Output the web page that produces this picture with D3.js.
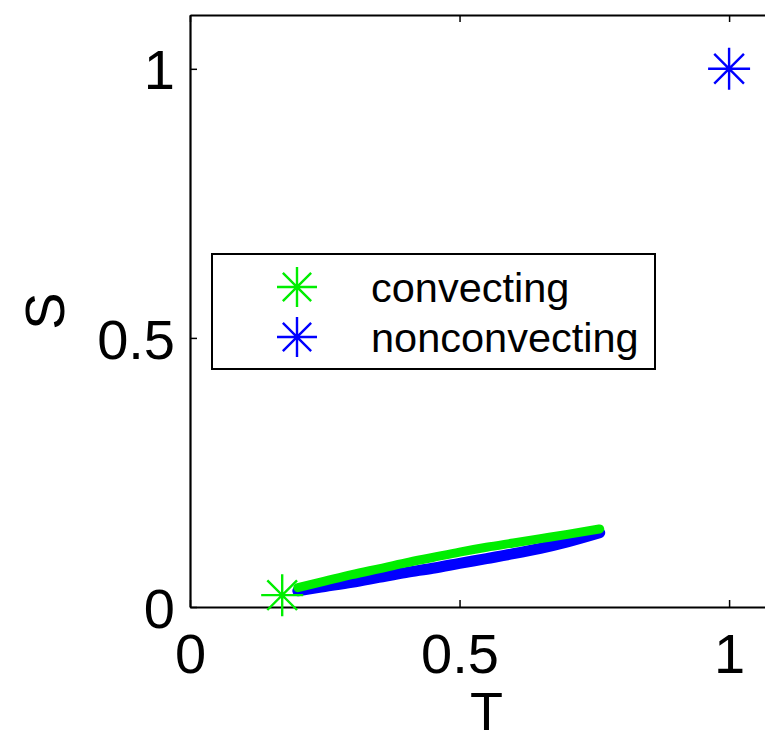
<!DOCTYPE html>
<html><head><meta charset="utf-8">
<script src="https://cdn.jsdelivr.net/npm/d3@7"></script>
<style>body{margin:0;background:#fff}svg{display:block}</style>
</head><body>
<script>
// Data
const convT = [0.20, 0.25, 0.30, 0.35, 0.40, 0.45, 0.50, 0.55, 0.60, 0.65, 0.70, 0.76];
const convS = [0.036, 0.048, 0.060, 0.071, 0.082, 0.092, 0.102, 0.111, 0.119, 0.127, 0.135, 0.145];
const nonT = [0.20, 0.25, 0.30, 0.35, 0.40, 0.45, 0.50, 0.55, 0.60, 0.65, 0.70, 0.76];
const nonS = [0.030, 0.038, 0.046, 0.055, 0.064, 0.072, 0.081, 0.090, 0.099, 0.109, 0.121, 0.138];
const convStarT = [0.171], convStarS = [0.022];
const nonStarT = [1.0], nonStarS = [1.0];
const xTicks = [0, 0.5, 1];
const yTicks = [0, 0.5, 1];
const legendLabels = ["convecting", "nonconvecting"];
const seriesColors = ["#00ee00", "#0000ff"];

const W = 765, H = 732;
const m = {left: 190, top: 15, right: 783, bottom: 607};
const font = "'Liberation Sans', Arial, Helvetica, sans-serif";

const svg = d3.select("body").append("svg").attr("width", W).attr("height", H)
  .style("font-family", font);

const x = d3.scaleLinear().domain([0, 1.1]).range([m.left, m.right]);
const y = d3.scaleLinear().domain([0, 1.1]).range([m.bottom, m.top]);

// Axes (MATLAB-style inward ticks, box)
const fmt = d => String(d);
const ax = svg.append("g").attr("transform", `translate(0,${m.bottom})`)
  .call(d3.axisBottom(x).tickValues(xTicks).tickSizeInner(-7).tickSizeOuter(0).tickPadding(26).tickFormat(fmt));
const axTop = svg.append("g").attr("transform", `translate(0,${m.top})`)
  .call(d3.axisTop(x).tickValues(xTicks).tickSizeInner(-7).tickSizeOuter(0).tickFormat(""));
const ay = svg.append("g").attr("transform", `translate(${m.left},0)`)
  .call(d3.axisLeft(y).tickValues(yTicks).tickSizeInner(-7).tickSizeOuter(0).tickPadding(15).tickFormat(fmt));
const ayR = svg.append("g").attr("transform", `translate(${m.right},0)`)
  .call(d3.axisRight(y).tickValues(yTicks).tickSizeInner(-7).tickSizeOuter(0).tickFormat(""));
[ax, axTop, ay, ayR].forEach(g => {
  g.selectAll("path.domain").attr("stroke", "#000").attr("stroke-width", 2.2);
  g.selectAll(".tick line").attr("stroke", "#000").attr("stroke-width", 1.5);
  g.selectAll("text").attr("fill", "#000").style("font-size", "56px").style("font-family", font);
});
ax.selectAll("text").attr("dy", "0.71em");
ay.selectAll("text").attr("dy", "0.36em");

// Axis labels
svg.append("text").attr("x", x(0.55)).attr("y", 730).attr("text-anchor", "middle")
  .style("font-size", "54px").text("T");
svg.append("text").attr("transform", `translate(64,${y(0.55)}) rotate(-90)`)
  .attr("text-anchor", "middle").style("font-size", "56px").text("S");

// Trajectories
const line = d3.line().x(d => x(d[0])).y(d => y(d[1])).curve(d3.curveMonotoneX);
svg.append("path").datum(nonT.map((t, i) => [t, nonS[i]]))
  .attr("d", line).attr("fill", "none").attr("stroke", seriesColors[1])
  .attr("stroke-width", 11).attr("stroke-linecap", "round");
svg.append("path").datum(convT.map((t, i) => [t, convS[i]]))
  .attr("d", line).attr("fill", "none").attr("stroke", seriesColors[0])
  .attr("stroke-width", 9).attr("stroke-linecap", "round");

// Star markers
function star(g, cx, cy, r, color) {
  const d = r * Math.SQRT1_2;
  const p = `M${cx - r},${cy}H${cx + r}M${cx},${cy - r}V${cy + r}` +
            `M${cx - d},${cy - d}L${cx + d},${cy + d}M${cx - d},${cy + d}L${cx + d},${cy - d}`;
  g.append("path").attr("d", p).attr("stroke", color).attr("stroke-width", 2.4).attr("fill", "none");
}
convStarT.forEach((t, i) => star(svg, x(t), y(convStarS[i]), 21, seriesColors[0]));
nonStarT.forEach((t, i) => star(svg, x(t), y(nonStarS[i]), 21, seriesColors[1]));

// Legend
svg.append("rect").attr("x", 212).attr("y", 254).attr("width", 443).attr("height", 115)
  .attr("fill", "#fff").attr("stroke", "#000").attr("stroke-width", 2);
legendLabels.forEach((lab, i) => {
  const cy = 287 + i * 50;
  star(svg, 297, cy, 20, seriesColors[i]);
  svg.append("text").attr("x", 371).attr("y", cy).attr("dy", "0.35em")
    .style("font-size", "41.5px").attr("fill", "#000").text(lab);
});
</script>
</body></html>
